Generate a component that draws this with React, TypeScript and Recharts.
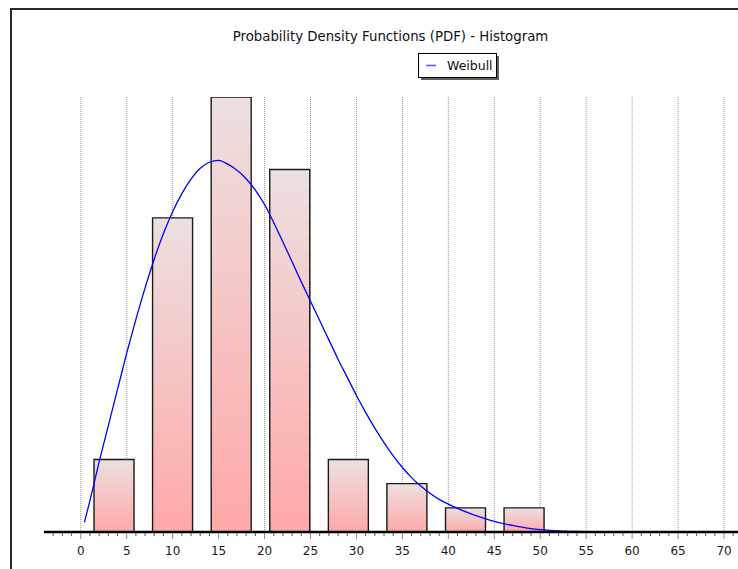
import React from 'react';
import {
  ComposedChart,
  Bar,
  Line,
  XAxis,
  YAxis,
  CartesianGrid,
  Legend,
} from 'recharts';

// Histogram bins: centre of each bin and its frequency
const binCenters = [3.65, 10.02, 16.4, 22.77, 29.15, 35.52, 41.9, 48.27];
const binCounts = [3, 13, 18, 15, 3, 2, 1, 1];

// Fitted Weibull density, scaled to the histogram's frequency axis
const curveX = [
  0.4, 1, 2, 3, 4, 5, 6, 7, 8, 9, 10, 11, 12, 13, 14, 15, 16, 17, 18, 19, 20,
  21, 22, 23, 24, 25, 26, 27, 28, 29, 30, 31, 32, 33, 34, 35, 36, 37, 38, 39,
  40, 41, 42, 43, 44, 45, 46, 47, 48, 49, 50, 51, 52, 53, 54, 55, 56,
];
const curveY = [
  0.4, 1.3, 2.9, 4.4, 5.9, 7.4, 8.8, 10.1, 11.3, 12.35, 13.25, 14.0, 14.6,
  15.05, 15.3, 15.38, 15.22, 14.97, 14.62, 14.15, 13.55, 12.8, 12.0, 11.18,
  10.35, 9.55, 8.75, 7.95, 7.15, 6.4, 5.65, 4.95, 4.3, 3.7, 3.15, 2.67, 2.25,
  1.9, 1.6, 1.35, 1.15, 0.98, 0.82, 0.68, 0.55, 0.44, 0.35, 0.27, 0.2, 0.14,
  0.1, 0.07, 0.045, 0.03, 0.02, 0.01, 0,
];

// Axis ticks
const majorTicks = [0, 5, 10, 15, 20, 25, 30, 35, 40, 45, 50, 55, 60, 65, 70];
const allTicks = Array.from({ length: 76 }, (_, i) => i - 3);
const xDomain = [-4, 72];
const yDomain = [0, 18];

const TITLE = 'Probability Density Functions (PDF) - Histogram';
const FONT = '"DejaVu Sans", Verdana, sans-serif';

const histData = binCenters.map((x, i) => ({ x, count: binCounts[i] }));
const pdfData = curveX.map((x, i) => ({ x, pdf: curveY[i] }));

const AxisTick = (props: any) => {
  const { x, y, payload } = props;
  const v = payload.value as number;
  const isMajor = majorTicks.includes(v);
  return (
    <g>
      <line
        x1={x}
        x2={x}
        y1={y + 1}
        y2={y + (isMajor ? 7 : 4)}
        stroke={isMajor ? '#8a8a8a' : '#555'}
        strokeWidth={1}
      />
      {isMajor && (
        <text
          x={x}
          y={y + 23}
          textAnchor="middle"
          fontSize={12}
          fontFamily={FONT}
          fill="#1a1a1a"
        >
          {v}
        </text>
      )}
    </g>
  );
};

const LegendBox = (props: any) => {
  const items = (props.payload || []).filter((p: any) => p.dataKey === 'pdf');
  return (
    <svg width={84} height={28} style={{ display: 'block' }}>
      <rect x={3} y={3} width={78} height={24} fill="#5f5f5f" />
      <rect x={0.5} y={0.5} width={78} height={24} fill="#fff" stroke="#000" />
      {items.map((it: any) => (
        <g key={it.value}>
          <line x1={8} x2={18} y1={12.5} y2={12.5} stroke="#5a5aff" strokeWidth={1.6} />
          <text x={29} y={16.5} fontSize={12.5} fontFamily={FONT} fill="#111">
            {it.value}
          </text>
        </g>
      ))}
    </svg>
  );
};

export default function App() {
  return (
    <div
      style={{
        position: 'fixed',
        left: 0,
        top: 0,
        width: 738,
        height: 569,
        overflow: 'hidden',
        background: '#fff',
        fontFamily: FONT,
      }}
    >
      <div
        style={{
          position: 'absolute',
          left: 10,
          top: 8,
          width: 800,
          height: 600,
          borderLeft: '2px solid #2a2a2a',
          borderTop: '2px solid #2a2a2a',
        }}
      />
      <div style={{ position: 'absolute', left: 0, top: 0 }}>
        <ComposedChart
          width={760}
          height={569}
          data={histData}
          margin={{ top: 97, right: 17.6, bottom: 7, left: 44 }}
        >
          <defs>
            <linearGradient id="barFill" x1="0" y1="0" x2="0" y2="1">
              <stop offset="0%" stopColor="#ede0e0" />
              <stop offset="100%" stopColor="#ffa8a8" />
            </linearGradient>
          </defs>
          <CartesianGrid
            xAxisId="hist"
            horizontal={false}
            verticalValues={majorTicks}
            stroke="#9a9a9a"
            strokeDasharray="1 1"
          />
          <XAxis
            xAxisId="hist"
            dataKey="x"
            type="number"
            domain={xDomain}
            allowDataOverflow
            ticks={allTicks}
            interval={0}
            tick={<AxisTick />}
            tickLine={false}
            tickSize={0}
            tickMargin={0}
            height={30}
            axisLine={{ stroke: '#000', strokeWidth: 2.5 }}
          />
          <XAxis
            xAxisId="pdf"
            dataKey="x"
            type="number"
            domain={xDomain}
            allowDataOverflow
            hide
          />
          <YAxis
            type="number"
            domain={yDomain}
            allowDataOverflow
            width={0}
            tick={false}
            tickLine={false}
            axisLine={{ stroke: '#000', strokeWidth: 2.5 }}
          />
          <Legend
            content={<LegendBox />}
            layout="horizontal"
            verticalAlign="middle"
            align="center"
            wrapperStyle={{ left: 418, top: 53, width: 84, height: 28 }}
          />
          <Bar
            xAxisId="hist"
            dataKey="count"
            barSize={40}
            fill="url(#barFill)"
            stroke="#1a1a1a"
            strokeWidth={1.4}
            legendType="none"
            isAnimationActive={false}
          />
          <Line
            xAxisId="pdf"
            data={pdfData}
            dataKey="pdf"
            name="Weibull"
            type="monotone"
            stroke="#0000ff"
            strokeWidth={1.3}
            dot={false}
            activeDot={false}
            isAnimationActive={false}
          />
        </ComposedChart>
      </div>
      <svg
        width={738}
        height={60}
        style={{ position: 'absolute', left: 0, top: 0, pointerEvents: 'none' }}
      >
        <text
          x={390.5}
          y={41}
          textAnchor="middle"
          fontSize={13.3}
          fontFamily={FONT}
          fill="#111"
        >
          {TITLE}
        </text>
      </svg>
    </div>
  );
}
